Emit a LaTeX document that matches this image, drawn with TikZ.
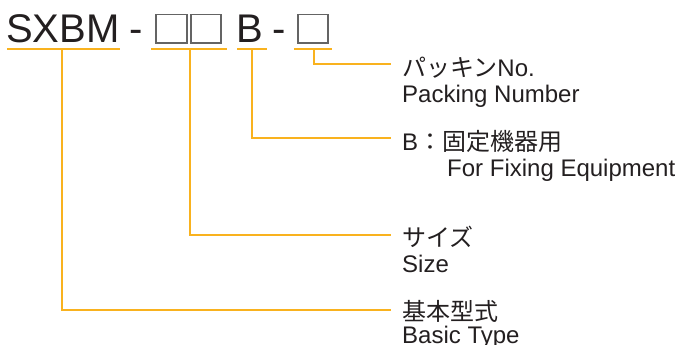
\documentclass[tikz,border=0pt]{standalone}
\usepackage{fontspec}
\setmainfont{Liberation Sans}
\newfontfamily\cjk{Noto Sans CJK JP}
\definecolor{lineor}{RGB}{249,178,30}
\definecolor{txt}{RGB}{35,31,32}
\definecolor{boxgray}{RGB}{100,100,100}
\begin{document}
\begin{tikzpicture}[x=1pt,y=-1pt,
  conn/.style={draw=lineor,line width=1.3pt},
  codebox/.style={draw=boxgray,line width=1.3pt},
  big/.style={inner sep=0pt,text=txt,font=\fontsize{40}{40}\selectfont},
  lab/.style={inner sep=0pt,anchor=base west,text=txt,font=\fontsize{24}{24}\selectfont}]
\useasboundingbox (0,0) rectangle (685,345);
% top code
\node[big,anchor=base west] (sxbm) at (6,43) {SXBM};
\node[big,anchor=base] (d1) at (136,43) {-};
\draw[codebox] (156,14.5) rectangle (187,43);
\draw[codebox] (191,14.5) rectangle (221,43);
\node[big,anchor=base west] (bb) at (236,43) {B};
\node[big,anchor=base] (d2) at (279,43) {-};
\draw[codebox] (298,14.5) rectangle (328,43);
% underlines
\coordinate (u1a) at (7,49); \coordinate (u1b) at (120,49);
\coordinate (u2a) at (151,49); \coordinate (u2b) at (227,49);
\coordinate (u3a) at (237,49); \coordinate (u3b) at (267,49);
\coordinate (u4a) at (294,49); \coordinate (u4b) at (332,49);
\draw[conn] (u1a) -- (u1b);
\draw[conn] (u2a) -- (u2b);
\draw[conn] (u3a) -- (u3b);
\draw[conn] (u4a) -- (u4b);
% connector starts and ends
\coordinate (s1) at (62,49);  \coordinate (e1) at (391,310);
\coordinate (s2) at (190,49); \coordinate (e2) at (391,235);
\coordinate (s3) at (252,49); \coordinate (e3) at (391,138);
\coordinate (s4) at (314,49); \coordinate (e4) at (391,64);
\draw[conn] (s4) |- (e4);
\draw[conn] (s3) |- (e3);
\draw[conn] (s2) |- (e2);
\draw[conn] (s1) |- (e1);
% labels
\node[lab] (l4j) at (402,76) {{\cjk パッキン}No.};
\node[lab] (l4e) at (402,102) {Packing Number};
\node[lab] (l3j) at (402,150) {B{\cjk ：固定機器用}};
\node[lab] (l3e) at (447,176) {For Fixing Equipment};
\node[lab] (l2j) at (402,246) {\cjk サイズ};
\node[lab] (l2e) at (402,272) {Size};
\node[lab] (l1j) at (402,320) {\cjk 基本型式};
\node[lab] (l1e) at (402,343) {Basic Type};
\end{tikzpicture}
\end{document}
